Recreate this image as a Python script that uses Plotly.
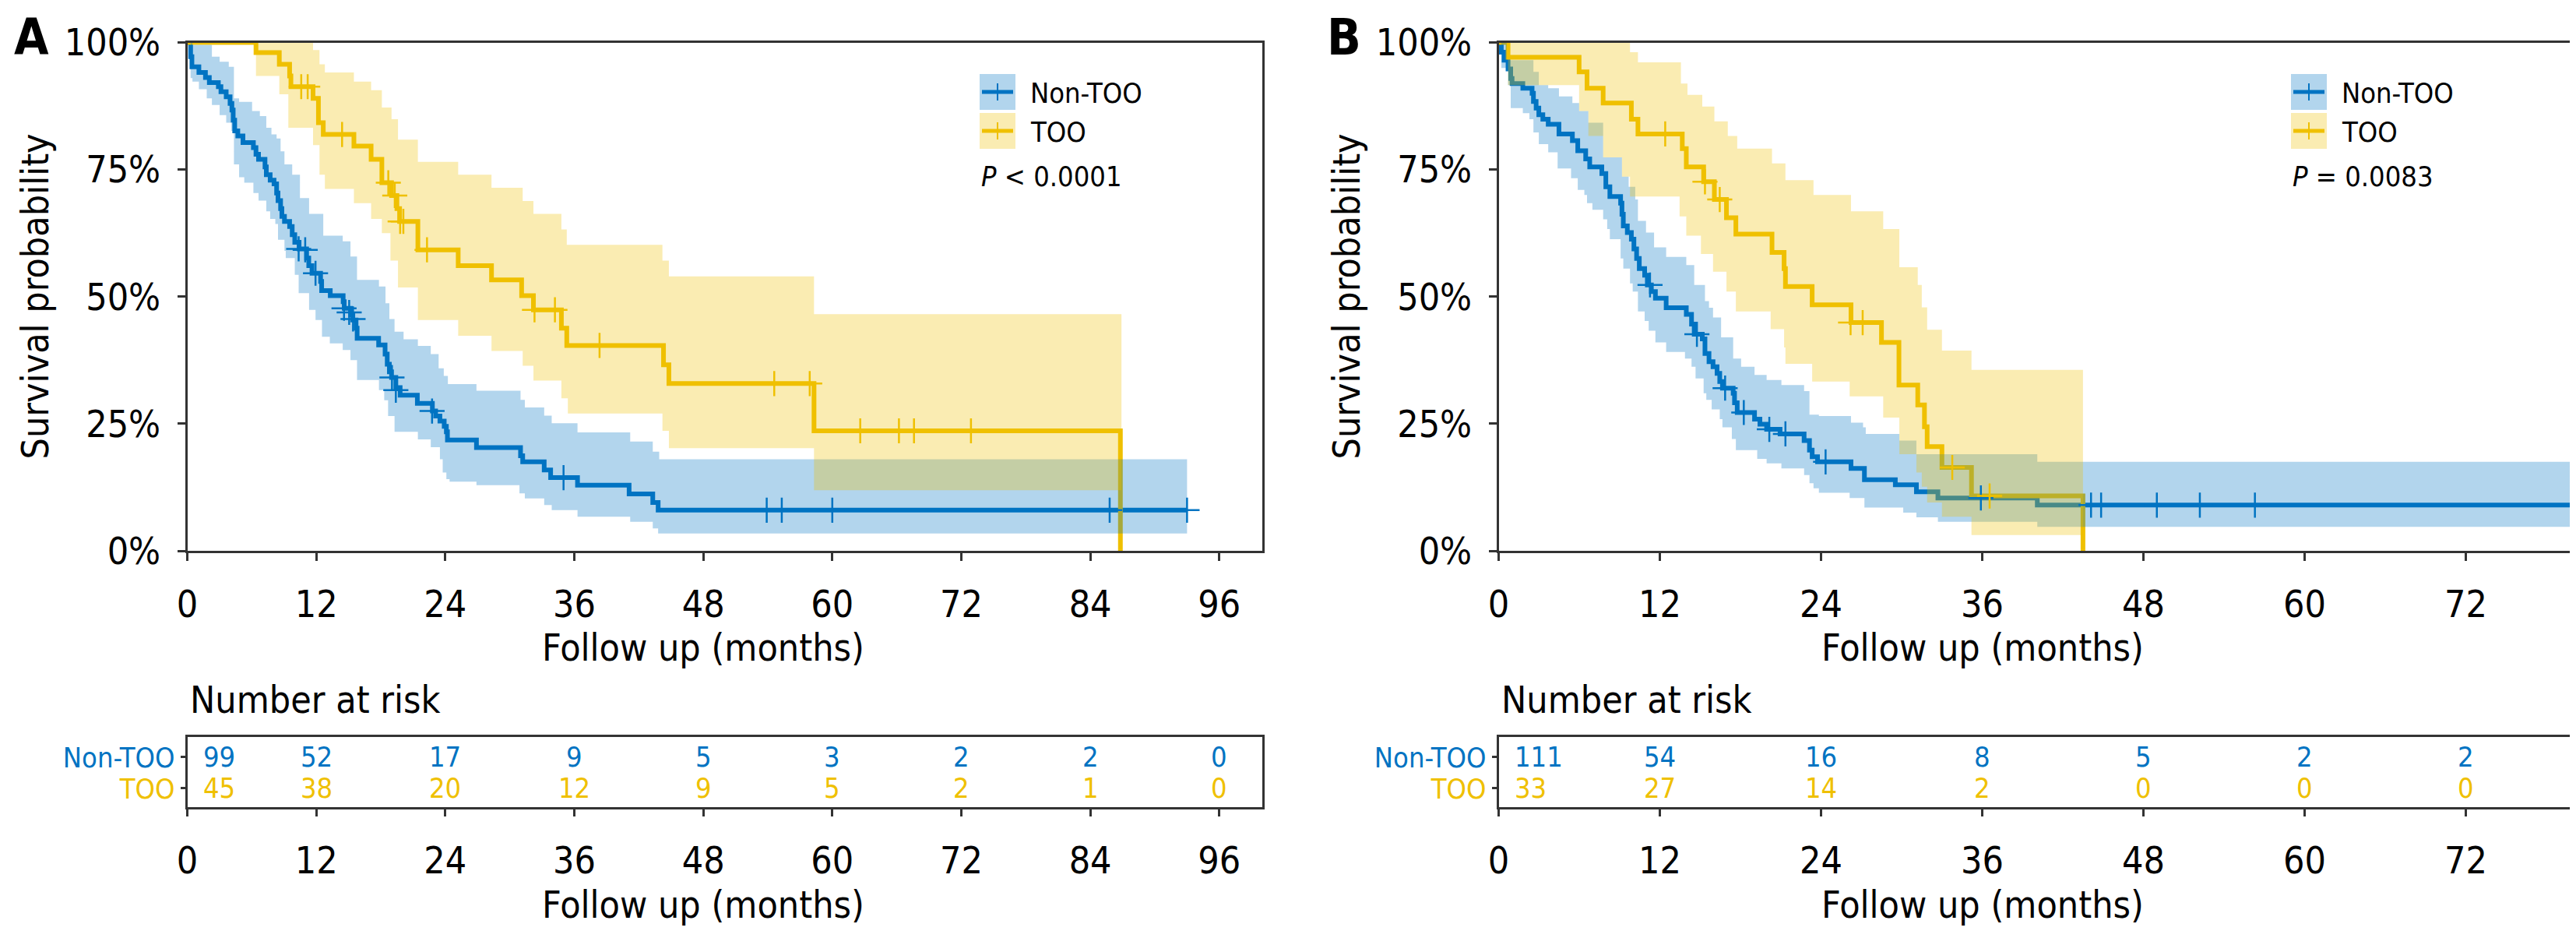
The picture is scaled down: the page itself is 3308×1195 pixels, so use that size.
import plotly.graph_objects as go

W, H = 3308, 1195
BLUE = "#0073C2"
YELLOW = "#EFC000"
BLUE_FILL = "rgba(0,115,194,0.3)"
YELLOW_FILL = "rgba(239,192,0,0.3)"
FONT = "DejaVu Sans Condensed, DejaVu Sans, sans-serif"
AXIS = "#333333"

###################################################################################################
# Panel A - Kaplan-Meier estimates
###################################################################################################

a_non_t = [0, 0.31, 0.43, 1.08, 1.69, 2.05, 2.89, 3.13, 3.62, 3.98, 4.15, 4.27, 4.41, 4.70, 5.18,
           6.15, 6.39, 6.63, 7.23, 7.35, 7.71, 8.07, 8.31, 8.44, 8.68, 8.80, 9.04, 9.52, 9.76, 10.0,
           10.4, 11.1, 11.3, 11.6, 12.4, 12.5, 13.3, 14.5, 14.6, 15.2, 15.4, 15.7, 15.8, 17.8, 18.4,
           18.6, 18.8, 19.0, 19.4, 19.8, 21.4, 22.8, 23.1, 23.5, 23.9, 24.1, 24.2, 26.9, 31.0, 31.2,
           33.2, 33.8, 36.3, 41.1, 43.3, 43.8, 93.0]
a_non_s = [1.0, .972, .952, .941, .931, .921, .913, .903, .893, .880, .867, .847, .826, .816, .803,
           .793, .780, .770, .755, .740, .729, .722, .704, .689, .673, .658, .648, .638, .622, .607,
           .594, .576, .561, .546, .530, .512, .502, .490, .477, .464, .454, .438, .418, .405, .387,
           .367, .352, .341, .321, .306, .290, .275, .265, .255, .245, .234, .218, .203, .187, .175,
           .159, .144, .129, .112, .095, .080, .080]
a_non_up_t = [0, 0.48, 2.29, 3.01, 3.86, 4.34, 4.82, 6.03, 6.75, 7.35, 7.83, 8.31, 8.68, 9.04, 9.76,
              10.48, 11.33, 12.65, 14.46, 15.18, 15.79, 17.83, 18.44, 18.80, 19.28, 20.12, 21.45,
              22.65, 23.38, 23.86, 24.24, 26.9, 31.0, 31.4, 33.2, 33.9, 36.3, 41.2, 43.3, 43.9, 93.0]
a_non_up_s = [1.0, .995, .972, .962, .952, .890, .883, .865, .855, .832, .819, .811, .786, .760, .740,
              .694, .663, .620, .609, .579, .533, .520, .487, .456, .431, .416, .403,
              .387, .359, .344, .328, .315, .297, .282, .266, .251, .233, .215, .195, .180, .180]
a_non_lo_t = [0, 0.31, 0.48, 1.08, 1.81, 2.29, 3.01, 3.62, 4.10, 4.34, 4.82, 5.30, 6.15, 6.63, 7.35,
              7.71, 8.19, 8.44, 9.04, 9.16, 10.0, 10.36, 11.33, 11.93, 12.53, 13.26, 14.46, 15.18,
              15.79, 17.83, 18.32, 18.68, 19.28, 21.45, 22.65, 23.5, 23.76, 24.1, 24.4, 26.9, 30.9,
              31.4, 33.2, 33.9, 36.3, 41.2, 43.3, 43.8, 93.0]
a_non_lo_s = [1.0, .930, .923, .908, .890, .877, .857, .842, .826, .760, .735, .724, .704, .689, .668,
              .653, .643, .612, .590, .576, .543, .507, .474, .454, .421, .408, .395, .375,
              .336, .316, .296, .265, .234, .219, .204, .180, .154, .141, .136, .129, .113,
              .103, .090, .080, .067, .057, .044, .034, .034]
a_non_cens_t = [10.36, 10.97, 11.93, 14.58, 15.06, 15.42, 19.04, 19.40, 22.77, 35.0, 53.9, 55.3, 60.0, 85.8, 93.0]
a_non_cens_s = [.594, .592, .546, .477, .469, .456, .341, .316, .275, .144, .080, .080, .080, .080, .080]

a_too_t = [0, 6.39, 8.56, 9.52, 9.64, 11.7, 12.2, 12.65, 15.5, 17.1, 18.1, 19.0, 19.5, 19.75, 21.45,
           25.2, 28.3, 31.1, 32.2, 34.8, 35.3, 44.3, 44.8, 58.3, 86.8]
a_too_s = [1.0, .980, .957, .934, .913, .890, .842, .819, .796, .770, .724, .699, .673, .648, .592,
           .561, .533, .502, .474, .438, .404, .366, .329, .236, 0.0]
a_too_up_t = [0, 11.7, 12.3, 12.8, 15.5, 17.1, 18.1, 19.0, 19.6, 21.45, 25.2, 28.3, 31.2, 32.2, 34.8,
              35.3, 44.2, 44.8, 58.3, 86.9]
a_too_up_s = [1.0, .985, .957, .941, .923, .906, .872, .849, .809, .765, .740, .714, .688, .663, .632,
              .602, .571, .540, .4655, .4655]
a_too_lo_t = [0, 6.39, 8.56, 9.4, 11.7, 12.3, 12.8, 15.5, 17.1, 18.1, 18.9, 19.6, 21.45, 25.2, 28.3,
              31.2, 32.2, 34.8, 35.4, 44.2, 44.8, 58.3, 86.9]
a_too_lo_s = [1.0, .934, .898, .832, .798, .740, .712, .684, .653, .625, .571, .518, .454, .423, .393,
              .364, .335, .300, .270, .236, .202, .119, .119]
a_too_cens_t = [10.6, 11.2, 14.4, 18.7, 19.3, 19.8, 20.1, 22.3, 32.3, 34.2, 38.35, 54.6, 57.9, 62.6, 66.2, 67.6, 72.9]
a_too_cens_s = [.913, .913, .819, .724, .699, .648, .648, .592, .474, .474, .404, .329, .329, .236, .236, .236, .236]

a_risk_times = [0, 12, 24, 36, 48, 60, 72, 84, 96]
a_risk_non = [99, 52, 17, 9, 5, 3, 2, 2, 0]
a_risk_too = [45, 38, 20, 12, 9, 5, 2, 1, 0]

###################################################################################################
# Panel B
###################################################################################################

b_non_t = [0, 0.20, 0.40, 0.70, 0.90, 1.0, 1.80, 2.49, 2.59, 2.79, 2.99, 3.29, 3.69, 4.49, 5.49,
           5.89, 6.48, 6.78, 7.68, 7.98, 8.28, 9.08, 9.18, 9.28, 9.58, 9.88, 10.07, 10.27, 10.47,
           10.87, 11.07, 11.37, 11.67, 12.47, 13.97, 14.36, 14.56, 15.16, 15.36, 15.66, 15.96, 16.26,
           16.46, 16.66, 17.46, 17.56, 17.76, 19.05, 19.45, 19.95, 20.95, 22.74, 23.14, 23.34, 23.74,
           26.23, 27.23, 29.53, 31.1, 32.7, 40.1, 80.0]
b_non_s = [1.0, .981, .965, .948, .929, .919, .910, .900, .884, .871, .858, .849, .839, .820, .807,
           .787, .771, .755, .742, .716, .697, .684, .662, .639, .626, .613, .594, .575, .555,
           .542, .523, .510, .497, .478, .465, .446, .426, .417, .388, .372, .362, .349,
           .333, .320, .310, .291, .272, .259, .249, .239, .230, .217, .198, .185, .175,
           .162, .140, .130, .116, .104, .090, .090]
b_non_up_t = [0, 0.6, 2.59, 2.99, 3.69, 4.49, 5.49, 5.99, 6.68, 7.78, 9.18, 9.68, 10.17, 10.37, 10.97,
              11.57, 12.47, 13.97, 14.56, 15.36, 15.66, 15.96, 16.56, 17.46, 18.05, 19.05, 19.95, 21.05,
              22.74, 23.14, 23.84, 26.23, 27.13, 27.33, 29.83, 31.1, 40.1, 80.0]
b_non_up_s = [1.0, .965, .942, .916, .910, .894, .881, .865, .842, .774, .736, .716, .691, .649, .626,
              .597, .578, .562, .523, .491, .478, .459, .420, .378, .362, .346, .336, .326,
              .314, .268, .265, .252, .243, .230, .217, .190, .175, .175]
b_non_lo_t = [0, 0.2, 0.70, 0.90, 1.80, 2.29, 2.59, 2.99, 3.69, 4.39, 5.39, 5.89, 6.38, 6.58, 6.98,
              7.78, 8.08, 8.28, 9.08, 9.28, 9.78, 9.98, 10.37, 10.87, 11.17, 11.67, 12.47, 13.87, 14.36,
              14.66, 15.26, 15.46, 15.86, 16.46, 16.66, 17.36, 17.66, 19.25, 19.95, 21.05, 22.74, 23.14,
              23.44, 23.84, 26.13, 27.23, 30.12, 31.1, 32.7, 40.1, 80.0]
b_non_lo_s = [1.0, .950, .916, .871, .861, .849, .823, .800, .784, .752, .733, .710, .700, .684, .671,
              .652, .633, .613, .575, .555, .526, .510, .471, .452, .433, .410, .391, .378, .362,
              .339, .310, .297, .278, .259, .243, .220, .198, .181, .172, .162, .149, .133,
              .123, .114, .104, .085, .075, .066, .057, .047, .047]
b_non_cens_t = [11.27, 14.76, 16.86, 18.25, 20.15, 21.35, 24.34, 35.9, 44.1, 44.85, 49.0, 52.2, 56.3]
b_non_cens_s = [.523, .426, .320, .272, .239, .230, .175, .104, .090, .090, .090, .090, .090]

b_too_t = [0, 0.70, 5.99, 6.58, 7.78, 9.88, 10.37, 13.67, 13.97, 15.26, 16.06, 16.96, 17.66, 20.35,
           21.25, 21.35, 23.34, 26.23, 28.5, 29.8, 31.2, 31.7, 31.9, 33.0, 35.2, 43.5]
b_too_s = [1.0, .971, .942, .910, .881, .849, .820, .791, .755, .726, .691, .655, .623, .587,
           .555, .520, .484, .449, .410, .326, .287, .244, .205, .164, .108, 0.0]
b_too_up_t = [0, 9.78, 10.37, 13.57, 14.06, 15.16, 16.06, 17.06, 17.76, 20.35, 21.35, 23.44, 26.23,
              28.63, 29.83, 31.2, 31.5, 31.9, 33.0, 35.2, 43.5]
b_too_up_s = [1.0, .981, .961, .919, .897, .874, .845, .816, .791, .762, .729, .700, .668,
              .633, .558, .523, .479, .435, .394, .356, .356]
b_too_lo_t = [0, 0.70, 5.99, 6.68, 7.78, 9.18, 9.78, 13.47, 13.97, 15.06, 15.96, 16.96, 17.66, 20.25,
              21.25, 21.35, 23.34, 26.13, 28.63, 29.83, 31.1, 31.5, 31.9, 33.0, 35.2, 43.5]
b_too_lo_s = [1.0, .916, .865, .816, .774, .736, .697, .658, .620, .584, .549, .510, .471, .436,
              .400, .368, .333, .304, .262, .190, .154, .126, .095, .067, .031, .031]
b_too_cens_t = [12.4, 15.36, 16.46, 26.2, 27.1, 33.77, 36.55]
b_too_cens_s = [.820, .726, .691, .449, .449, .164, .108]

b_risk_times = [0, 12, 24, 36, 48, 60, 72]
b_risk_non = [111, 54, 16, 8, 5, 2, 2]
b_risk_too = [33, 27, 14, 2, 0, 0, 0]

###################################################################################################
# Layout helpers (pixel positions of the original figure)
###################################################################################################

def px(v):
    return v / W

def py(v):
    return 1 - v / H

MAIN_Y = [py(699), py(46.5)]
RISK_Y = [py(1027.5), py(938)]
A_X = [px(232.5), px(1613)]
B_X = [px(1916.5), px(3296.5)]

fig = go.Figure()


def add_panel(xa, ya, curves, upper, lower, cens):
    # lines first, confidence bands drawn over them, censor marks last (as in the original)
    for (t, s), col in zip(curves, [BLUE, YELLOW]):
        fig.add_trace(go.Scatter(x=t, y=s, mode="lines", line=dict(color=col, width=6, shape="hv"),
                                 xaxis=xa, yaxis=ya, showlegend=False, hoverinfo="skip"))
    for (ut, us), (lt, ls), fc in zip(upper, lower, [BLUE_FILL, YELLOW_FILL]):
        fig.add_trace(go.Scatter(x=lt, y=ls, mode="lines", line=dict(width=0, shape="hv"),
                                 xaxis=xa, yaxis=ya, showlegend=False, hoverinfo="skip"))
        fig.add_trace(go.Scatter(x=ut, y=us, mode="lines", line=dict(width=0, shape="hv"),
                                 fill="tonexty", fillcolor=fc,
                                 xaxis=xa, yaxis=ya, showlegend=False, hoverinfo="skip"))
    for (ct, cs), col in zip(cens, [BLUE, YELLOW]):
        fig.add_trace(go.Scatter(x=ct, y=cs, mode="markers",
                                 marker=dict(symbol="cross-thin", size=23, line=dict(color=col, width=2.5)),
                                 xaxis=xa, yaxis=ya, showlegend=False, hoverinfo="skip"))


add_panel("x", "y",
          [(a_non_t, a_non_s), (a_too_t, a_too_s)],
          [(a_non_up_t, a_non_up_s), (a_too_up_t, a_too_up_s)],
          [(a_non_lo_t, a_non_lo_s), (a_too_lo_t, a_too_lo_s)],
          [(a_non_cens_t, a_non_cens_s), (a_too_cens_t, a_too_cens_s)])
add_panel("x3", "y3",
          [(b_non_t, b_non_s), (b_too_t, b_too_s)],
          [(b_non_up_t, b_non_up_s), (b_too_up_t, b_too_up_s)],
          [(b_non_lo_t, b_non_lo_s), (b_too_lo_t, b_too_lo_s)],
          [(b_non_cens_t, b_non_cens_s), (b_too_cens_t, b_too_cens_s)])

# invisible anchors so the risk-table axes exist
for xa, ya in [("x2", "y2"), ("x4", "y4")]:
    fig.add_trace(go.Scatter(x=[0], y=[0], mode="markers", marker=dict(opacity=0), xaxis=xa, yaxis=ya,
                             showlegend=False, hoverinfo="skip"))

###################################################################################################
# Axes
###################################################################################################

BIG = 48
SMALL = 36

tickfont = dict(family=FONT, size=BIG, color="black")
common = dict(showline=True, linecolor=AXIS, linewidth=2.5, mirror=True, showgrid=False, zeroline=False,
              ticks="outside", ticklen=10, tickwidth=3, tickcolor=AXIS, tickfont=tickfont, automargin=False)
risk_common = {**common, "tickfont": dict(family=FONT, size=SMALL), "ticklen": 6}

risk_labels = ['<span style="color:%s">TOO</span>' % YELLOW, '<span style="color:%s">Non-TOO</span>' % BLUE]
pct_vals = [0, .25, .5, .75, 1]
pct_text = ["0%", "25%", "50%", "75%", "100%"]

fig.update_layout(
    xaxis=dict(domain=A_X, range=[0, 100], tickvals=a_risk_times, anchor="y",
               ticklabelstandoff=15, **common),
    yaxis=dict(domain=MAIN_Y, range=[0, 1], tickvals=pct_vals, ticktext=pct_text, anchor="x",
               ticklabelstandoff=12, **common),
    xaxis2=dict(domain=A_X, range=[0, 100], tickvals=a_risk_times, anchor="y2",
                ticklabelstandoff=15, **common),
    yaxis2=dict(domain=RISK_Y, range=[-0.59, 1.65], tickvals=[0, 1], ticktext=risk_labels, anchor="x2",
                **risk_common),
    xaxis3=dict(domain=B_X, range=[0, 80], tickvals=b_risk_times, anchor="y3",
                ticklabelstandoff=15, **common),
    yaxis3=dict(domain=MAIN_Y, range=[0, 1], tickvals=pct_vals, ticktext=pct_text, anchor="x3",
                ticklabelstandoff=12, **common),
    xaxis4=dict(domain=B_X, range=[0, 80], tickvals=b_risk_times, anchor="y4",
                ticklabelstandoff=15, **common),
    yaxis4=dict(domain=RISK_Y, range=[-0.59, 1.65], tickvals=[0, 1], ticktext=risk_labels, anchor="x4",
                **risk_common),
)

###################################################################################################
# Text: titles, risk numbers, legends
###################################################################################################

ann = []
shapes = []


def text(x, y, s, size, xanchor="center", angle=0, color="black", family=FONT, yanchor="middle"):
    ann.append(dict(x=px(x), y=py(y), xref="paper", yref="paper", text=s, showarrow=False,
                    xanchor=xanchor, yanchor=yanchor, textangle=angle,
                    font=dict(family=family, size=size, color=color)))


panels = [
    dict(tag="A", tag_x=32, left=232.5, ytitle_x=36, xtitle_x=895, risk_x="x2", risk_y="y2",
         times=a_risk_times, non=a_risk_non, too=a_risk_too, leg_x=1250, p="<i>P</i> &lt; 0.0001"),
    dict(tag="B", tag_x=1718, left=1916.5, ytitle_x=1720, xtitle_x=2538, risk_x="x4", risk_y="y4",
         times=b_risk_times, non=b_risk_non, too=b_risk_too, leg_x=2934, p="<i>P</i> = 0.0083"),
]

for p in panels:
    # panel tag, kept inside the page's top edge
    text(p["tag_x"], 1, "<b>%s</b>" % p["tag"], 64, family="DejaVu Sans Condensed, DejaVu Sans",
         yanchor="top")
    text(p["ytitle_x"], 372.5, "Survival probability", BIG, angle=-90)
    text(p["xtitle_x"], 823, "Follow up (months)", BIG)
    text(p["xtitle_x"], 1153, "Follow up (months)", BIG)
    text(p["left"] + 1, 890, "Number at risk", BIG, xanchor="left")

    # risk table numbers
    for row, counts, col in [(1, p["non"], BLUE), (0, p["too"], YELLOW)]:
        for t, c in zip(p["times"], counts):
            ann.append(dict(x=t, y=row, xref=p["risk_x"], yref=p["risk_y"], text=str(c), showarrow=False,
                            xanchor="left" if t == 0 else "center", xshift=18 if t == 0 else 0,
                            font=dict(family=FONT, size=SMALL, color=col)))

    # legend
    lx = p["leg_x"]
    for (y0, col, fc, name) in [(87, BLUE, BLUE_FILL, "Non-TOO"), (137, YELLOW, YELLOW_FILL, "TOO")]:
        shapes.append(dict(type="rect", xref="paper", yref="paper", x0=px(lx), x1=px(lx + 46),
                           y0=py(y0), y1=py(y0 + 46), fillcolor=fc, line=dict(width=0)))
        shapes.append(dict(type="line", xref="paper", yref="paper", x0=px(lx + 3), x1=px(lx + 43),
                           y0=py(y0 + 23), y1=py(y0 + 23), line=dict(color=col, width=5)))
        shapes.append(dict(type="line", xref="paper", yref="paper", x0=px(lx + 23), x1=px(lx + 23),
                           y0=py(y0 + 12), y1=py(y0 + 34), line=dict(color=col, width=2)))
        text(lx + 63, y0 + 24, name, SMALL, xanchor="left")
    text(lx, 218, p["p"], SMALL, xanchor="left")

fig.update_layout(
    width=W, height=H, autosize=False,
    margin=dict(l=0, r=0, t=0, b=0, pad=0, autoexpand=False),
    paper_bgcolor="white", plot_bgcolor="white",
    font=dict(family=FONT, color="black"),
    annotations=ann, shapes=shapes, showlegend=False,
)

fig.write_html("out.html")
